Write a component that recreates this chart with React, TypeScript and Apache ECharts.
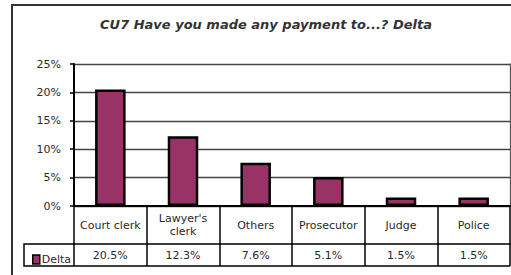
import React, { useEffect, useRef } from "react";
import * as echarts from "echarts";

const categories = ["Court clerk", "Lawyer's\nclerk", "Others", "Prosecutor", "Judge", "Police"];
const deltaValues = [20.5, 12.3, 7.6, 5.1, 1.5, 1.5];
const seriesName = "Delta";
const titleText = "CU7 Have you made any payment to...? Delta";
const yTicks = { min: 0, max: 25, interval: 5 };

const FONT = "DejaVu Sans, Liberation Sans, Arial, sans-serif";
const TEXT = "#2a2a2a";

export default function App() {
  const ref = useRef<HTMLDivElement>(null);
  useEffect(() => {
    if (!ref.current) return;
    const chart = echarts.init(ref.current, undefined, { renderer: "svg" });
    chart.setOption({
      animation: false,
      backgroundColor: "#ffffff",
      textStyle: { fontFamily: FONT },
      grid: { left: 74, right: 1, top: 64, bottom: 69 },
      legend: {
        data: [seriesName],
        left: 27,
        top: 249,
        icon: "rect",
        itemWidth: 7,
        itemHeight: 9,
        itemGap: 2,
        itemStyle: { borderColor: "#000", borderWidth: 1.5 },
        textStyle: { fontSize: 11, color: TEXT, fontFamily: FONT, padding: [0, 0, 0, -3] },
      },
      xAxis: [
        {
          type: "category",
          data: categories,
          position: "bottom",
          axisLine: { show: true, onZero: false, lineStyle: { color: "#000", width: 2 } },
          axisTick: { show: true, length: 38, lineStyle: { color: "#000", width: 1.5 } },
          axisLabel: {
            interval: 0,
            fontSize: 11,
            fontFamily: FONT,
            color: TEXT,
            verticalAlign: "middle",
            margin: 19,
            lineHeight: 13,
          },
        },
        {
          type: "category",
          data: categories,
          position: "bottom",
          offset: 38,
          axisLine: { show: true, onZero: false, lineStyle: { color: "#000", width: 1.5 } },
          axisTick: { show: true, length: 22, lineStyle: { color: "#000", width: 1.5 } },
          axisLabel: {
            interval: 0,
            fontSize: 11,
            fontFamily: FONT,
            color: TEXT,
            verticalAlign: "middle",
            margin: 11,
            formatter: (_v: string, i: number) => deltaValues[i].toFixed(1) + "%",
          },
        },
      ],
      yAxis: [
        {
          type: "value",
          min: yTicks.min,
          max: yTicks.max,
          interval: yTicks.interval,
          axisLine: { show: true, onZero: false, lineStyle: { color: "#000", width: 2 } },
          axisTick: { show: true, length: 4, lineStyle: { color: "#000", width: 1.5 } },
          axisLabel: {
            formatter: "{value}%",
            fontSize: 11,
            fontFamily: FONT,
            color: TEXT,
            margin: 13,
          },
          splitLine: { show: true, lineStyle: { color: "#444", width: 1.3 } },
        },
        {
          type: "value",
          position: "right",
          min: yTicks.min,
          max: yTicks.max,
          interval: yTicks.interval,
          axisLine: { show: true, onZero: false, lineStyle: { color: "#555", width: 1.3 } },
          axisTick: { show: false },
          axisLabel: { show: false },
          splitLine: { show: false },
        },
      ],
      series: [
        {
          name: seriesName,
          type: "bar",
          xAxisIndex: 0,
          yAxisIndex: 0,
          data: deltaValues,
          barWidth: "42%",
          itemStyle: { color: "#993366", borderColor: "#000", borderWidth: 2.5 },
        },
      ],
      graphic: [
        {
          type: "rect",
          shape: { x: 12, y: 5, width: 560, height: 300 },
          style: { fill: "none", stroke: "#333", lineWidth: 2 },
          silent: true,
        },
        {
          type: "polyline",
          shape: { points: [[74, 244], [24, 244], [24, 266], [510, 266]] },
          style: { fill: "none", stroke: "#000", lineWidth: 1.5 },
          silent: true,
        },
        {
          type: "text",
          x: 266,
          y: 24,
          style: {
            text: titleText,
            align: "center",
            verticalAlign: "middle",
            fontSize: 13,
            fontStyle: "italic",
            fontWeight: "bold",
            fontFamily: FONT,
            fill: "#333",
          },
        },
      ],
    });
    return () => chart.dispose();
  }, []);
  return (
    <div
      ref={ref}
      style={{ position: "fixed", left: 0, top: 0, width: 511, height: 275 }}
    />
  );
}
